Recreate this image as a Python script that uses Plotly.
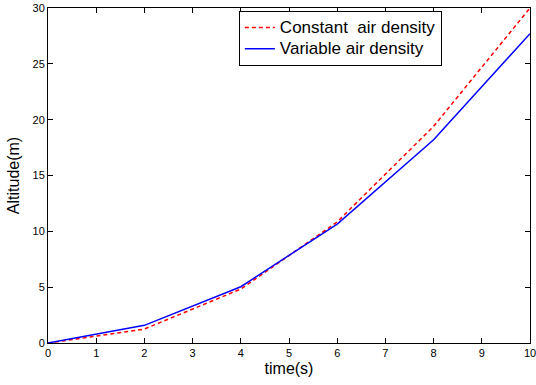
import plotly.graph_objects as go

time_s = [0, 2, 4, 6, 8, 10]
alt_constant = [0, 1.25, 4.83, 10.85, 19.4, 30.0]
alt_variable = [0, 1.58, 5.04, 10.65, 18.2, 27.7]

series_names = ["Constant  air density", "Variable air density"]
x_ticks = list(range(0, 11))
y_ticks = [0, 5, 10, 15, 20, 25, 30]


def legend_label(text):
    return "<span style='font-size:17px'>" + text + "</span>"


fig = go.Figure()
fig.add_trace(go.Scatter(x=time_s, y=alt_constant, mode="lines",
                         name=legend_label(series_names[0]),
                         line=dict(color="#ff0000", width=1.5, dash="4px,3px")))
fig.add_trace(go.Scatter(x=time_s, y=alt_variable, mode="lines",
                         name=legend_label(series_names[1]),
                         line=dict(color="#0000ff", width=1.5)))

axis_common = dict(showgrid=False, zeroline=False, showline=True, linecolor="black",
                   linewidth=1, mirror="ticks", ticks="inside", ticklen=5,
                   tickcolor="black", automargin=False, ticklabeloverflow="allow",
                   tickfont=dict(family="Liberation Sans, Arial", size=11, color="black"))

fig.update_layout(
    width=536, height=385,
    margin=dict(l=48, r=6, t=8, b=42),
    plot_bgcolor="white", paper_bgcolor="white",
    font=dict(family="Liberation Sans, Arial", color="black"),
    xaxis=dict(range=[0, 10], tickvals=x_ticks,
               title=dict(text="time(s)", font=dict(size=16), standoff=4), **axis_common),
    yaxis=dict(range=[0, 30], tickvals=y_ticks,
               title=dict(text="Altitude(m)", font=dict(size=16), standoff=8), **axis_common),
    legend=dict(x=0.396, y=0.991, xanchor="left", yanchor="top",
                bgcolor="white", bordercolor="black", borderwidth=1,
                font=dict(size=14, color="black"), tracegroupgap=0),
    showlegend=True,
)

fig.write_html("out.html",
               config={"displayModeBar": False},
               post_script="document.body.style.margin='0';document.body.style.overflow='hidden';")
